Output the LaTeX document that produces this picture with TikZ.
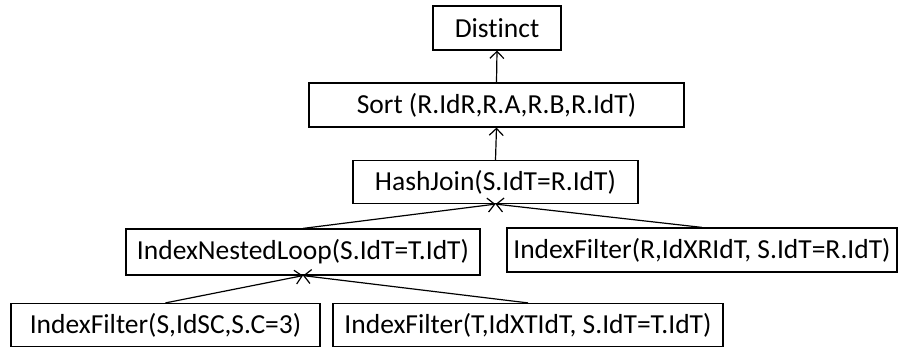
\documentclass[tikz,border=0pt]{standalone}
\usepackage{fontspec}
\setmainfont{Carlito}[Ligatures=NoCommon]
\usetikzlibrary{arrows.meta}
\begin{document}
\begin{tikzpicture}[x=1pt, y=-1pt,
	opbox/.style={draw, rectangle, line width=1.2pt, inner sep=0pt, minimum height=44pt, font=\fontsize{27.5}{32}\selectfont},
	flow/.style={->, line width=1.2pt, >={Straight Barb[length=7pt, width=14pt]}}]

\useasboundingbox (0,0) rectangle (899,348);

\node[opbox, minimum width=128pt] (Distinct) at (497, 28) {Distinct};
\node[opbox, minimum width=375pt] (Sort) at (496.5, 105) {Sort (R.IdR,R.A,R.B,R.IdT)};
\node[opbox, minimum width=285pt, minimum height=43pt] (HashJoin) at (495.5, 182) {HashJoin(S.IdT=R.IdT)};
\node[opbox, minimum width=354pt, minimum height=46pt] (INL) at (303, 252) {IndexNestedLoop(S.IdT=T.IdT)};
\node[opbox, minimum width=390pt] (FilterR) at (702, 250) {IndexFilter(R,IdXRIdT, S.IdT=R.IdT)};
\node[opbox, minimum width=309pt, minimum height=43pt] (FilterS) at (165.5, 325) {IndexFilter(S,IdSC,S.C=3)};
\node[opbox, minimum width=390pt, minimum height=43pt] (FilterT) at (528, 325) {IndexFilter(T,IdXTIdT, S.IdT=T.IdT)};

\draw[flow] (Sort.north) -- (Distinct.south);
\draw[flow] (HashJoin.north) -- (Sort.south);

\draw[flow] (INL.north) -- (HashJoin.south);
\draw[flow] (FilterR.north) -- (HashJoin.south);

\draw[flow] (FilterS.north) -- (INL.south);
\draw[flow] (FilterT.north) -- (INL.south);

\end{tikzpicture}
\end{document}
